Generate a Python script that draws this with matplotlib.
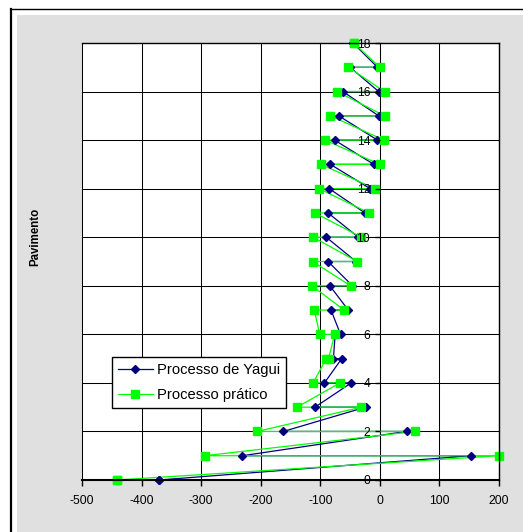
import matplotlib
matplotlib.use('Agg')
import matplotlib.pyplot as plt
from matplotlib.lines import Line2D
from matplotlib.patches import Rectangle

plt.rcParams['font.family'] = ['Liberation Sans', 'DejaVu Sans']

# floors (pavimento) and the two readings at each floor
floors = list(range(0, 19))
yagui_first = [-371, 153, 45, -24, -48, -64, -75, -82, -84, -87, -90, -87, -85, -83, -76, -69, -62, -50, -45]
yagui_second = [-371, -231, -162, -109, -93, -78, -66, -53, -46, -40, -36, -25, -16, -10, -4, -2, -2, -4, -45]
pratico_first = [-442, 200, 59, -31, -67, -90, -76, -110, -114, -113, -112, -109, -102, -99, -92, -83, -72, -53, -44]
pratico_second = [-442, -294, -206, -139, -112, -86, -101, -60, -49, -38, -31, -18, -8, 0, 7, 8, 8, 0, -44]

x_ticks = [-500, -400, -300, -200, -100, 0, 100, 200]
y_ticks = [0, 2, 4, 6, 8, 10, 12, 14, 16, 18]


def zigzag(first, second):
    xs, ys = [], []
    for f, a, b in zip(floors, first, second):
        xs += [a, b]
        ys += [f, f]
    return xs, ys


yx, yy = zigzag(yagui_first, yagui_second)
px, py = zigzag(pratico_first, pratico_second)

navy = '#000080'
green = '#00FF00'

fig = plt.figure(figsize=(5.23, 5.32), dpi=100)
fig.patch.set_facecolor('white')

# chart area: gray fill and black frame
fig.patches.append(Rectangle((17 / 523, 0), 1, 1 - 15 / 532, transform=fig.transFigure,
                             facecolor='#E0E0E0', edgecolor='none', zorder=-2))
fig.lines.append(Line2D([11 / 523, 11 / 523], [0, 1 - 8.5 / 532], transform=fig.transFigure,
                        color='black', lw=1.6, zorder=-1))
fig.lines.append(Line2D([11 / 523, 1], [1 - 8.5 / 532, 1 - 8.5 / 532], transform=fig.transFigure,
                        color='black', lw=1.0, zorder=-1))

ax = fig.add_axes([82 / 523, 1 - 480 / 532, 417 / 523, 437 / 532])
ax.set_zorder(1)
ax.set_facecolor('white')
ax.set_axisbelow(False)

ax.set_xlim(-500, 200)
ax.set_ylim(0, 18)

# grid
for xv in x_ticks:
    ax.axvline(xv, color='black', lw=0.75, zorder=1, clip_on=False)
for yv in y_ticks[1:-1]:
    ax.axhline(yv, color='black', lw=0.75, zorder=1)

# lines first, markers on top, axis labels above all
ax.plot(yx, yy, color=navy, lw=0.9, zorder=2.1, clip_on=False)
ax.plot(px, py, color=green, lw=0.9, zorder=2.2, clip_on=False)
ax.plot(yx, yy, ls='none', marker='D', ms=3.8, color=navy, zorder=2.3, clip_on=False)
ax.plot(px, py, ls='none', marker='s', ms=5.8, color=green, zorder=2.4, clip_on=False)

ax.spines['left'].set_position(('data', 0))
ax.spines['left'].set_linewidth(0.75)
ax.spines['left'].set_zorder(1)
ax.spines['top'].set_linewidth(1.0)
ax.spines['right'].set_linewidth(1.0)
ax.spines['bottom'].set_linewidth(1.5)

ax.set_xticks(x_ticks)
ax.set_yticks(y_ticks)
ax.set_xticklabels([str(v) for v in x_ticks])
ax.set_yticklabels([str(v) for v in y_ticks])
ax.tick_params(axis='x', direction='out', length=4, width=1, pad=7, labelsize=8.8)
ax.tick_params(axis='y', direction='out', length=3.5, width=1, pad=3.5, labelsize=8.8)

fig.text(35 / 523, 1 - 237 / 532, 'Pavimento', rotation=90, ha='center', va='center',
         fontsize=8.3, fontweight='bold')

handles = [Line2D([], [], color=navy, lw=0.9, marker='D', ms=3.8),
           Line2D([], [], color=green, lw=0.9, marker='s', ms=5.8)]
leg = ax.legend(handles, ['Processo de Yagui', 'Processo prático'],
                loc='upper left', bbox_to_anchor=(0.0712, 0.282), borderaxespad=0,
                fontsize=10.6, frameon=True, fancybox=False, edgecolor='black',
                framealpha=1, handlelength=2.4, handletextpad=0.3, labelspacing=0.75,
                borderpad=0.4)
leg.get_frame().set_linewidth(1.0)
leg.set_zorder(10)

fig.savefig('out.png', dpi=100)
